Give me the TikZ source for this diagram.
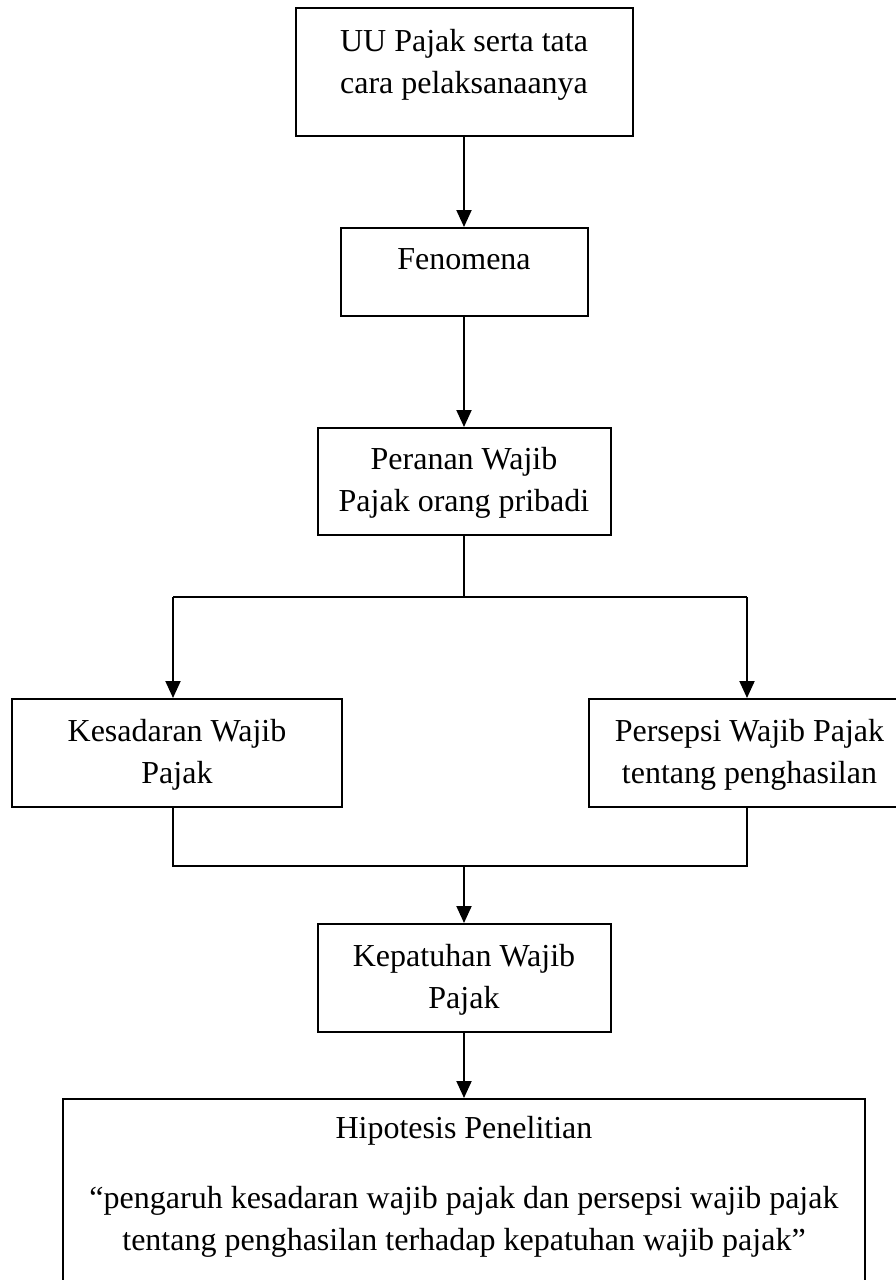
\documentclass[tikz,border=0pt]{standalone}
\usepackage{fontspec}
\setmainfont{Liberation Serif}
\usetikzlibrary{arrows.meta}
% struts that fix the space above the first and below the last line
\newcommand{\topgap}[1]{\rule{0pt}{#1pt}}
\newcommand{\botgap}[1]{\rule[-#1pt]{0pt}{#1pt}}
\tikzset{
    flowbox/.style={draw, line width=2pt, inner sep=0pt, align=center, anchor=north,
        font=\fontsize{32}{42}\selectfont},
    flowline/.style={line width=2pt},
    flowarrow/.style={flowline, -{Triangle[length=17pt,width=15pt]}}
}
\begin{document}
\begin{tikzpicture}[x=1pt,y=-1pt]
        \useasboundingbox (0,0) rectangle (896,1280);
        \clip (0,0) rectangle (896,1280);
        \node[flowbox, minimum width=337pt] (uu) at (464,7) {\topgap{43}UU Pajak serta tata\\cara pelaksanaanya\botgap{43}};
        \node[flowbox, minimum width=247pt] (fen) at (464,227) {\topgap{41}Fenomena\botgap{47}};
        \node[flowbox, minimum width=293pt] (peran) at (464,427) {\topgap{41}Peranan Wajib\\Pajak orang pribadi\botgap{24}};
        \node[flowbox, minimum width=330pt] (kes) at (177,698) {\topgap{42}Kesadaran Wajib\\Pajak\botgap{24}};
        \node[flowbox, minimum width=321pt] (pers) at (749.5,698) {\topgap{42}Persepsi Wajib Pajak\\tentang penghasilan\botgap{24}};
        \node[flowbox, minimum width=293pt] (kep) at (464,923) {\topgap{42}Kepatuhan Wajib\\Pajak\botgap{24}};
        \node[flowbox, minimum width=802pt] (hipo) at (464,1098) {\topgap{39}Hipotesis Penelitian\\[28pt]“pengaruh kesadaran wajib pajak dan persepsi wajib pajak\\tentang penghasilan terhadap kepatuhan wajib pajak”\botgap{60}};
        % branch and join points
        \coordinate (split) at (464,597);
        \coordinate (ltop) at (173,597);
        \coordinate (rtop) at (747,597);
        \coordinate (join) at (464,866);
        \coordinate (lbot) at (173,866);
        \coordinate (rbot) at (747,866);
        \draw[flowarrow] (uu) -- (fen);
        \draw[flowarrow] (fen) -- (peran);
        \draw[flowline] (peran) -- (split);
        \draw[flowline] (ltop) -- (rtop);
        \draw[flowarrow] (ltop) -- (ltop |- kes.north);
        \draw[flowarrow] (rtop) -- (rtop |- pers.north);
        \draw[flowline] (lbot |- kes.south) -- (lbot) -- (rbot) -- (rbot |- pers.south);
        \draw[flowarrow] (join) -- (kep);
        \draw[flowarrow] (kep) -- (hipo);
    \end{tikzpicture}
\end{document}
